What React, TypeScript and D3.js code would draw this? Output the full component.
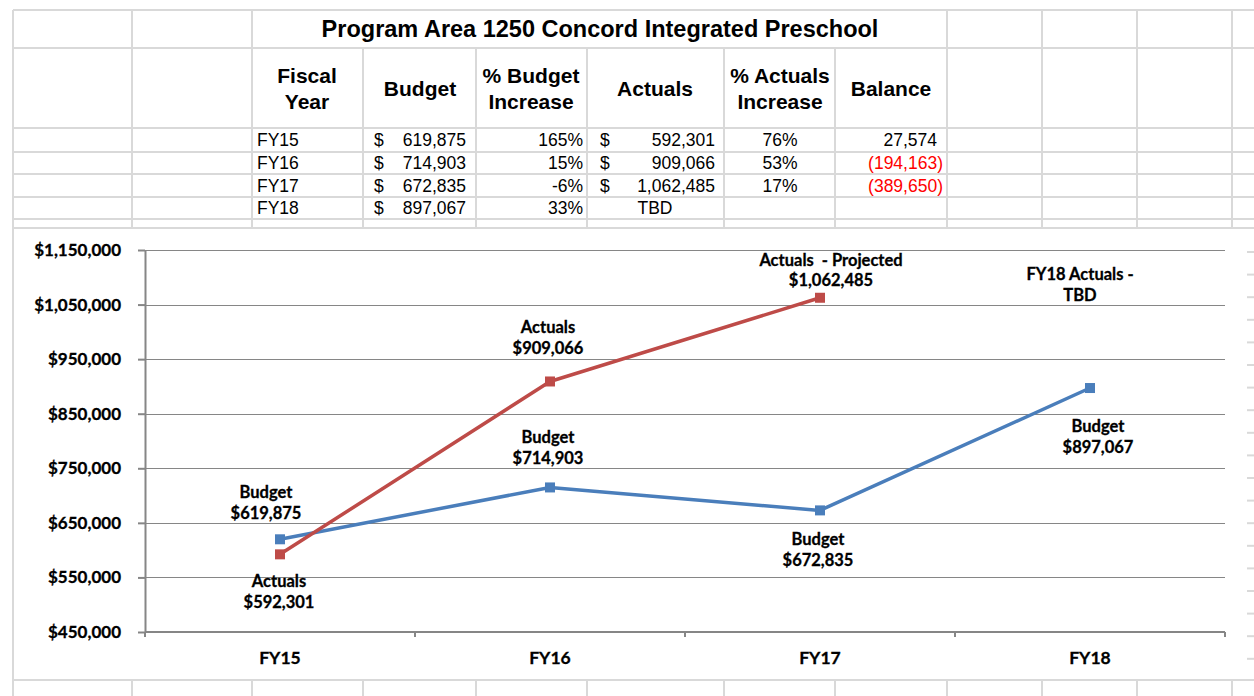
import React, { useEffect, useRef } from 'react';
import * as d3 from 'd3';

// table / chart values
const title = 'Program Area 1250 Concord Integrated Preschool';
const fiscalYears = ['FY15', 'FY16', 'FY17', 'FY18'];
const budget = [619875, 714903, 672835, 897067];
const budgetIncrease = ['165%', '15%', '-6%', '33%'];
const actuals: (number | null)[] = [592301, 909066, 1062485, null];
const actualsIncrease = ['76%', '53%', '17%', ''];
const balance: (number | null)[] = [27574, -194163, -389650, null];
const yTicks = [450000, 550000, 650000, 750000, 850000, 950000, 1050000, 1150000];
const budgetNames = ['Budget', 'Budget', 'Budget', 'Budget'];
const actualsNames = ['Actuals', 'Actuals', 'Actuals  - Projected'];
const tbdNote = ['FY18 Actuals -', 'TBD'];
const tbdAnchor = 1085000;

// label nudges (px, first line centre relative to the point)
const budgetLabelDx = [-14, -2, -2, 8];
const budgetLabelDy = [-47, -50, 29, 38];
const actualsLabelDx = [-1, -2, 11];
const actualsLabelDy = [27, -54, -38];

// sheet grid
const colX = [13, 132, 252, 363, 476, 587, 724, 835, 947, 1042, 1137, 1232];
const rowY = [10, 48, 128, 152, 174, 197, 219, 228];

const W = 1254;
const H = 696;
const BLUE = '#4a7ebb';
const RED = '#be4b48';
const GRID = '#868686';
const SHEET = '#d9d9d9';

export default function App() {
	const ref = useRef<SVGSVGElement>(null);

	useEffect(() => {
		document.body.style.margin = '0';
		const svg = d3.select(ref.current);
		svg.selectAll('*').remove();

		const fmt = d3.format(',');

		// spreadsheet grid
		const sheet = svg.append('g').attr('stroke', SHEET).attr('stroke-width', 2);
		rowY.forEach(yy => {
			sheet.append('line').attr('x1', 13).attr('x2', W).attr('y1', yy).attr('y2', yy);
		});
		colX.forEach((xx, i) => {
			const merged = i >= 3 && i <= 7;
			sheet.append('line').attr('x1', xx).attr('x2', xx).attr('y1', merged ? 48 : 10).attr('y2', 228);
			sheet.append('line').attr('x1', xx).attr('x2', xx).attr('y1', 680).attr('y2', H);
		});
		sheet.append('line').attr('x1', 13).attr('x2', 13).attr('y1', 10).attr('y2', H);
		sheet.append('line').attr('x1', 13).attr('x2', W).attr('y1', 680).attr('y2', 680);
		d3.range(252, 670, 22.6).forEach(yy => {
			sheet.append('line').attr('x1', 1247).attr('x2', W).attr('y1', yy).attr('y2', yy);
		});

		// table text
		const tbl = svg.append('g').attr('font-family', '"Liberation Sans", Arial, sans-serif').attr('fill', '#000');
		tbl.append('text')
			.attr('x', 600).attr('y', 37)
			.attr('text-anchor', 'middle')
			.attr('font-size', 23.5).attr('font-weight', 'bold')
			.text(title);

		const headers: [number, string[]][] = [
			[307, ['Fiscal', 'Year']],
			[420, ['Budget']],
			[531, ['% Budget', 'Increase']],
			[655, ['Actuals']],
			[780, ['% Actuals', 'Increase']],
			[891, ['Balance']]
		];
		headers.forEach(([cx, lines]) => {
			lines.forEach((ln, j) => {
				const cy = lines.length === 1 ? 89 : 76 + j * 26;
				tbl.append('text')
					.attr('x', cx).attr('y', cy + 7)
					.attr('text-anchor', 'middle')
					.attr('font-size', 21).attr('font-weight', 'bold')
					.text(ln);
			});
		});

		const rowCenters = [140, 163, 185.5, 208];
		fiscalYears.forEach((fy, i) => {
			const by = rowCenters[i] + 6.2;
			const cell = (x: number, anchor: string, txt: string, color = '#000') =>
				tbl.append('text')
					.attr('x', x).attr('y', by)
					.attr('text-anchor', anchor)
					.attr('font-size', 17.5)
					.attr('fill', color)
					.text(txt);
			cell(257, 'start', fy);
			cell(374, 'start', '$');
			cell(466, 'end', fmt(budget[i]));
			cell(583, 'end', budgetIncrease[i]);
			const a = actuals[i];
			if (a != null) {
				cell(600, 'start', '$');
				cell(715, 'end', fmt(a));
			} else {
				cell(655, 'middle', 'TBD');
			}
			cell(780, 'middle', actualsIncrease[i]);
			const b = balance[i];
			if (b != null) {
				if (b < 0) cell(943, 'end', `(${fmt(-b)})`, '#ff0000');
				else cell(937, 'end', fmt(b));
			}
		});

		// chart object
		svg.append('rect').attr('x', 14).attr('y', 229).attr('width', 1233).attr('height', 450).attr('fill', '#fff');

		const x = d3.scaleBand<string>().domain(fiscalYears).range([145, 1225]);
		const y = d3.scaleLinear().domain([450000, 1150000]).range([632, 250]);
		const cx = (i: number) => (x(fiscalYears[i]) as number) + x.bandwidth() / 2;

		const chart = svg.append('g').attr('font-family', 'Lato, "Open Sans", sans-serif').attr('font-weight', 'bold');

		// gridlines
		chart.append('g')
			.selectAll('line')
			.data(yTicks.slice(1))
			.join('line')
			.attr('x1', 145).attr('x2', 1225)
			.attr('y1', d => Math.round(y(d)) + 0.5).attr('y2', d => Math.round(y(d)) + 0.5)
			.attr('stroke', GRID).attr('stroke-width', 1);

		// y axis
		const yAxis = d3.axisLeft(y)
			.tickValues(yTicks)
			.tickSize(7)
			.tickSizeOuter(0)
			.tickPadding(17)
			.tickFormat(d => '$' + fmt(d as number));
		const ya = chart.append('g').attr('transform', 'translate(145,0)').call(yAxis);
		ya.select('.domain').attr('stroke', GRID).attr('stroke-width', 2);
		ya.selectAll('.tick line').attr('stroke', GRID).attr('stroke-width', 2);
		ya.selectAll('.tick text')
			.attr('font-family', 'Lato, "Open Sans", sans-serif')
			.attr('font-weight', 'bold')
			.attr('font-size', 17)
			.attr('fill', '#000')
			.attr('stroke', '#000')
			.attr('stroke-width', 0.3);

		// x axis
		chart.append('line')
			.attr('x1', 145).attr('x2', 1225).attr('y1', 632).attr('y2', 632)
			.attr('stroke', GRID).attr('stroke-width', 2);
		const bounds = fiscalYears.map(f => x(f) as number).concat([x.range()[1]]);
		chart.append('g')
			.selectAll('line')
			.data(bounds)
			.join('line')
			.attr('x1', d => d).attr('x2', d => d)
			.attr('y1', 632).attr('y2', 637)
			.attr('stroke', GRID).attr('stroke-width', 2);
		chart.append('g')
			.selectAll('text')
			.data(fiscalYears)
			.join('text')
			.attr('x', (d, i) => cx(i))
			.attr('y', 664)
			.attr('text-anchor', 'middle')
			.attr('font-size', 17.5)
			.attr('stroke', '#000')
			.attr('stroke-width', 0.3)
			.text(d => d);

		// series
		const line = d3.line<number | null>()
			.defined(d => d != null)
			.x((d, i) => cx(i))
			.y(d => y(d as number));

		const drawSeries = (vals: (number | null)[], color: string) => {
			chart.append('path')
				.datum(vals)
				.attr('fill', 'none')
				.attr('stroke', color)
				.attr('stroke-width', 3.5)
				.attr('stroke-linejoin', 'round')
				.attr('d', line);
			vals.forEach((v, i) => {
				if (v == null) return;
				chart.append('rect')
					.attr('x', cx(i) - 5).attr('y', y(v) - 5)
					.attr('width', 10).attr('height', 10)
					.attr('fill', color);
			});
		};
		drawSeries(budget, BLUE);
		drawSeries(actuals, RED);

		// data labels
		const label = (px: number, py: number, lines: string[]) => {
			lines.forEach((ln, j) => {
				chart.append('text')
					.attr('x', px)
					.attr('y', py + j * 20.5 + 6)
					.attr('text-anchor', 'middle')
					.attr('font-size', 16.5)
					.attr('fill', '#000')
					.attr('stroke', '#000')
					.attr('stroke-width', 0.3)
					.style('white-space', 'pre')
					.text(ln);
			});
		};
		budget.forEach((v, i) => {
			label(cx(i) + budgetLabelDx[i], y(v) + budgetLabelDy[i], [budgetNames[i], '$' + fmt(v)]);
		});
		actuals.forEach((v, i) => {
			if (v == null) return;
			label(cx(i) + actualsLabelDx[i], y(v) + actualsLabelDy[i], [actualsNames[i], '$' + fmt(v)]);
		});
		label(cx(3) - 10, y(tbdAnchor) - 11, tbdNote);
	}, []);

	return <svg ref={ref} width={W} height={H} style={{ display: 'block', background: '#fff' }} />;
}
